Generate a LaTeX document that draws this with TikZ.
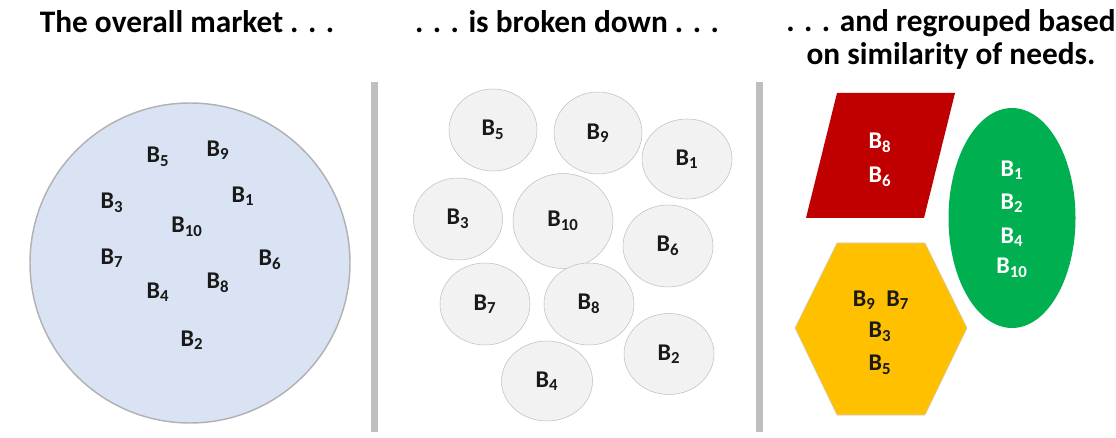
\documentclass[tikz,border=0pt]{standalone}
\usepackage{fontspec}
\setmainfont{Carlito}
\usetikzlibrary{shapes.geometric}
\definecolor{MarketBlue}{RGB}{218,227,243}
\definecolor{SegGray}{RGB}{242,242,242}
\definecolor{BarGray}{RGB}{191,191,191}
\definecolor{SegRed}{RGB}{192,0,0}
\definecolor{SegGreen}{RGB}{0,176,80}
\definecolor{SegGold}{RGB}{255,192,0}
\newcommand{\Bsub}[1]{B\textsubscript{#1}}
\tikzset{
  headtext/.style={font=\fontsize{23.5}{24}\selectfont\bfseries,inner sep=0pt,anchor=base,align=center},
  lbl/.style={font=\fontsize{18}{20}\selectfont\bfseries,inner sep=0pt,text=black!90},
  wlbl/.style={lbl,text=white},
  segcirc/.style={ellipse,draw=black!25,fill=SegGray,inner sep=0pt,lbl}
}
\begin{document}
\begin{tikzpicture}[x=0.75pt,y=-0.75pt]
  \useasboundingbox (0,0) rectangle (1116,438);
  % headings
  \node[headtext] (h1) at (187,33) {The overall market . . .};
  \node[headtext] (h2) at (567,33) {. . . is broken down . . .};
  \node[headtext] (h3) at (951,65) {. . . and regrouped based\\[1pt]on similarity of needs.};
  % separators
  \fill[BarGray] (371,82) rectangle (378,432);
  \fill[BarGray] (756,82) rectangle (763,432);
  % overall market
  \node[circle,draw=black!30,line width=1.1pt,fill=MarketBlue,minimum size=320*0.75pt] (market) at (190,263) {};
  \foreach \n/\x/\y in {5/158/157,9/218/150,3/112/203,1/243/196,10/187/227,
                        7/112/258,6/270/260,8/218/283,4/158/292,2/192/340}
    \node[lbl] (m\n) at (\x,\y) {\Bsub{\n}};
  % broken down
  \foreach \n/\x/\y/\w/\h in {5/493/130/88/82,9/598/133/88/82,1/687/159/90/80,
                              3/458/219/89/82,10/563/221/100/95,6/668/246/90/82,
                              7/485/304/90/82,8/589/304/90/82,2/669/354/90/81,
                              4/547/381/91/80}
    \node[segcirc,minimum width=\w*0.75pt,minimum height=\h*0.75pt] (s\n) at (\x,\y) {\Bsub{\n}};
  % regrouped
  \fill[SegRed] (837,93) -- (955,93) -- (924,218) -- (806,218) -- cycle;
  \node[wlbl] (r8) at (880,143) {\Bsub{8}};
  \node[wlbl] (r6) at (880,177) {\Bsub{6}};
  \node[ellipse,fill=SegGreen,minimum width=127*0.75pt,minimum height=220*0.75pt] (green) at (1012,218) {};
  \node[wlbl] (g1) at (1012,170) {\Bsub{1}};
  \node[wlbl] (g2) at (1012,203) {\Bsub{2}};
  \node[wlbl] (g4) at (1012,237) {\Bsub{4}};
  \node[wlbl] (g10) at (1012,268) {\Bsub{10}};
  \filldraw[fill=SegGold,draw=black!20] (837,243) -- (925,243) -- (967,328) -- (925,415)
    -- (837,415) -- (795,328) -- cycle;
  \node[lbl] (y97) at (881,300) {\Bsub{9}\ \ \Bsub{7}};
  \node[lbl] (y3) at (880,332) {\Bsub{3}};
  \node[lbl] (y5) at (880,365) {\Bsub{5}};
\end{tikzpicture}
\end{document}
